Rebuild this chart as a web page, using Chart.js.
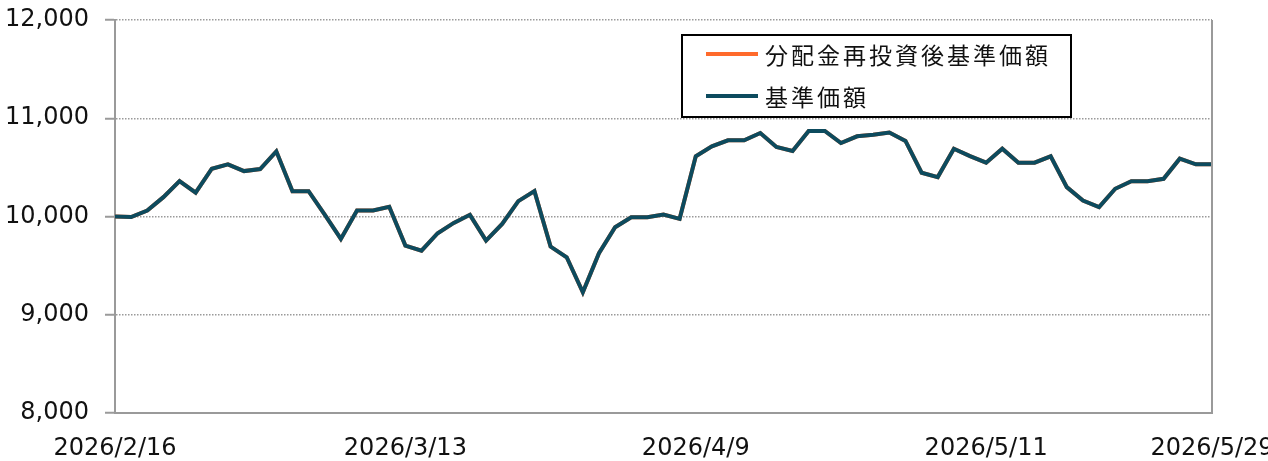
<!DOCTYPE html>
<html><head><meta charset="utf-8">
<script src="https://cdn.jsdelivr.net/npm/chart.js@4.4.1/dist/chart.umd.min.js"></script>
<style>html,body{margin:0;padding:0;background:#fff;overflow:hidden}#wrap{position:relative;width:1268px;height:461px}</style>
</head><body><div id="wrap"><canvas id="c" width="1268" height="461"></canvas></div>
<script>
const dates = [
 '2026/2/16','2026/2/17','2026/2/18','2026/2/19','2026/2/20','2026/2/24','2026/2/25','2026/2/26','2026/2/27',
 '2026/3/2','2026/3/3','2026/3/4','2026/3/5','2026/3/6','2026/3/9','2026/3/10','2026/3/11','2026/3/12','2026/3/13',
 '2026/3/16','2026/3/17','2026/3/18','2026/3/19','2026/3/23','2026/3/24','2026/3/25','2026/3/26','2026/3/27','2026/3/30','2026/3/31',
 '2026/4/1','2026/4/2','2026/4/3','2026/4/6','2026/4/7','2026/4/8','2026/4/9','2026/4/10','2026/4/13','2026/4/14','2026/4/15',
 '2026/4/16','2026/4/17','2026/4/20','2026/4/21','2026/4/22','2026/4/23','2026/4/24','2026/4/27','2026/4/28','2026/4/30',
 '2026/5/1','2026/5/7','2026/5/8','2026/5/11','2026/5/12','2026/5/13','2026/5/14','2026/5/15','2026/5/18','2026/5/19',
 '2026/5/20','2026/5/21','2026/5/22','2026/5/25','2026/5/26','2026/5/27','2026/5/28','2026/5/29'
];
const tickLabels = ['2026/2/16','2026/3/13','2026/4/9','2026/5/11','2026/5/29'];
const yTicks = [8000, 9000, 10000, 11000, 12000];
const nav = [
 10000, 9995, 10061, 10197, 10360, 10242, 10486, 10530, 10462, 10483,
 10663, 10258, 10258, 10020, 9772, 10061, 10061, 10099, 9704, 9653,
 9830, 9935, 10017, 9755, 9925, 10156, 10258, 9694, 9585, 9228,
 9626, 9891, 9993, 9993, 10020, 9976, 10612, 10714, 10776, 10776,
 10850, 10707, 10667, 10871, 10871, 10748, 10816, 10833, 10854, 10769,
 10446, 10401, 10690, 10615, 10548, 10690, 10548, 10548, 10612, 10299,
 10163, 10095, 10282, 10360, 10360, 10384, 10589, 10531, 10531
];
const navReinvested = [
 10000, 9995, 10061, 10197, 10360, 10242, 10486, 10530, 10462, 10483,
 10663, 10258, 10258, 10020, 9772, 10061, 10061, 10099, 9704, 9653,
 9830, 9935, 10017, 9755, 9925, 10156, 10258, 9694, 9585, 9228,
 9626, 9891, 9993, 9993, 10020, 9976, 10612, 10714, 10776, 10776,
 10850, 10707, 10667, 10871, 10871, 10748, 10816, 10833, 10854, 10769,
 10446, 10401, 10690, 10615, 10548, 10690, 10548, 10548, 10612, 10299,
 10163, 10095, 10282, 10360, 10360, 10384, 10589, 10531, 10531
];
const seriesNames = ['分配金再投資後基準価額', '基準価額'];
const seriesColors = ['#FF6A2B', '#0D4B5E'];

Chart.defaults.font.family = "'DejaVu Sans', 'Noto Sans CJK JP', sans-serif";
Chart.defaults.font.size = 24;
Chart.defaults.color = '#111';

const axisGray = '#9a9a9a';

const frame = {
  id: 'frame',
  afterDraw(chart) {
    const ctx = chart.ctx, a = chart.chartArea;
    ctx.save();
    ctx.strokeStyle = axisGray; ctx.lineWidth = 2;
    ctx.beginPath(); ctx.moveTo(a.right, a.top); ctx.lineTo(a.right, a.bottom); ctx.stroke();
    // legend
    const bx = 682, by = 35, bw = 389, bh = 82;
    ctx.fillStyle = '#fff'; ctx.fillRect(bx, by, bw, bh);
    ctx.strokeStyle = '#000'; ctx.lineWidth = 2; ctx.strokeRect(bx, by, bw, bh);
    ctx.font = "23px 'Noto Sans CJK JP', sans-serif";
    ctx.textBaseline = 'middle';
    ctx.textAlign = 'left';
    try { ctx.letterSpacing = '3px'; } catch (e) {}
    chart.data.datasets.forEach((ds, i) => {
      const y = 54 + i * 42;
      ctx.strokeStyle = ds.borderColor; ctx.lineWidth = 4;
      ctx.beginPath(); ctx.moveTo(706, y); ctx.lineTo(758, y); ctx.stroke();
      ctx.fillStyle = '#111';
      ctx.fillText(ds.label, 765, y + 1);
    });
    ctx.restore();
  }
};

new Chart(document.getElementById('c'), {
  type: 'line',
  data: {
    labels: dates,
    datasets: [
      { label: seriesNames[0], data: navReinvested, borderColor: seriesColors[0], borderWidth: 4, pointRadius: 0, tension: 0, fill: false, order: 1 },
      { label: seriesNames[1], data: nav, borderColor: seriesColors[1], borderWidth: 4, pointRadius: 0, tension: 0, fill: false, order: 0 }
    ]
  },
  options: {
    responsive: false,
    animation: false,
    devicePixelRatio: 1,
    layout: { padding: { left: 0, right: 56, top: 20, bottom: 0 } },
    plugins: { legend: { display: false }, tooltip: { enabled: false } },
    scales: {
      x: {
        type: 'category',
        offset: false,
        grid: { display: false, drawTicks: false },
        border: { display: true, color: axisGray, width: 2 },
        ticks: {
          autoSkip: false, maxRotation: 0, minRotation: 0, padding: 21,
          callback: function (v, i) { const l = dates[i]; return tickLabels.includes(l) ? l : ''; }
        },
        afterFit(s) { s.height = 48; s.paddingLeft = 0; s.paddingRight = 0; }
      },
      y: {
        min: 8000, max: 12000,
        afterBuildTicks(s) { s.ticks = yTicks.map(v => ({ value: v })); },
        grid: { color: axisGray, lineWidth: 1.5, tickLength: 10, tickColor: axisGray, tickWidth: 2, tickBorderDash: [] },
        border: { display: true, color: axisGray, width: 2, dash: [1.5, 1.5] },
        ticks: { padding: 16, callback: v => v.toLocaleString('en-US') },
        afterFit(s) { s.width = 115; s.paddingTop = 0; s.paddingBottom = 0; }
      }
    }
  },
  plugins: [frame]
});
</script>
</body></html>
